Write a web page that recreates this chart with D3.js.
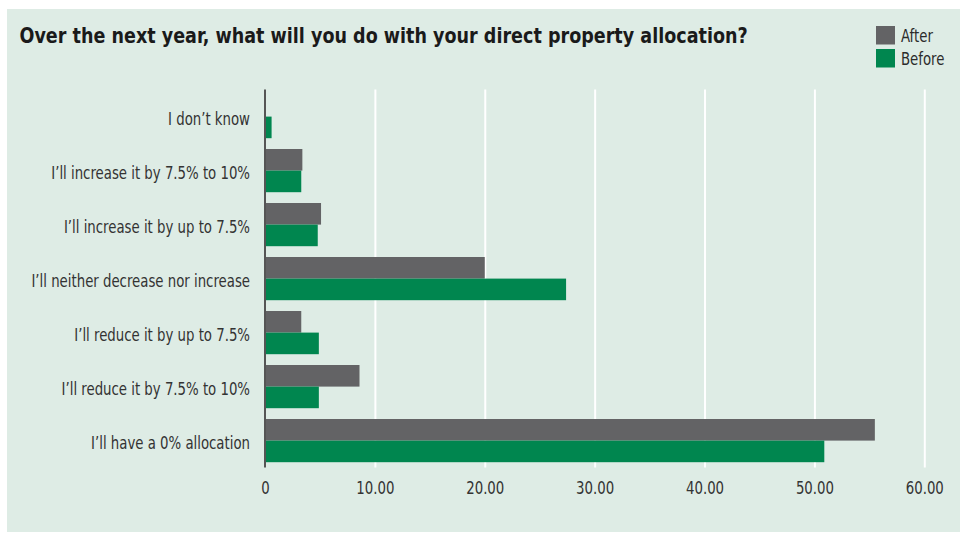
<!DOCTYPE html>
<html>
<head>
<meta charset="utf-8">
<script src="https://cdn.jsdelivr.net/npm/d3@7"></script>
<style>
  body { margin: 0; background: #ffffff; }
  svg { display: block; }
</style>
</head>
<body>
<svg id="chart" width="968" height="533"></svg>
<script>
// Survey answers, top to bottom
const categories = [
  "I don’t know",
  "I’ll increase it by 7.5% to 10%",
  "I’ll increase it by up to 7.5%",
  "I’ll neither decrease nor increase",
  "I’ll reduce it by up to 7.5%",
  "I’ll reduce it by 7.5% to 10%",
  "I’ll have a 0% allocation"
];
const seriesNames = ["After", "Before"];
const afterValues  = [0,   3.4, 5.1, 20.0, 3.3, 8.6, 55.5];
const beforeValues = [0.6, 3.3, 4.8, 27.4, 4.9, 4.9, 50.9];
const xTicks = [0, 10, 20, 30, 40, 50, 60];
const titleText = "Over the next year, what will you do with your direct property allocation?";

const colors = { After: "#636365", Before: "#00864f" };
const labelFont = "'DejaVu Sans Condensed', 'DejaVu Sans', sans-serif";
// horizontal squeeze to get a narrow, condensed face
const squeeze = "scale(0.87,1)";

const svg = d3.select("#chart");

// Panel background
svg.append("rect")
  .attr("x", 7).attr("y", 9)
  .attr("width", 953).attr("height", 523)
  .attr("fill", "#deece5");

// Title
svg.append("text")
  .attr("transform", "translate(19.5,43) scale(0.93,1)")
  .attr("font-family", labelFont)
  .attr("font-weight", "bold")
  .attr("font-size", 21)
  .attr("fill", "#1a1a1a")
  .text(titleText);

// Legend
const legend = svg.append("g").attr("transform", "translate(876,26)");
seriesNames.forEach((name, i) => {
  const g = legend.append("g").attr("transform", `translate(0,${i * 23})`);
  g.append("rect").attr("width", 19).attr("height", 18.5).attr("fill", colors[name]);
  g.append("text")
    .attr("transform", `translate(25,16) ${squeeze}`)
    .attr("font-family", labelFont)
    .attr("font-size", 17)
    .attr("fill", "#2b2b2b")
    .text(name);
});

// Scales
const plot = { left: 265, right: 924.3, top: 89.6, bottom: 467.6 };

const x = d3.scaleLinear()
  .domain([0, 60])
  .range([plot.left, plot.right]);

const y = d3.scaleBand()
  .domain(categories)
  .range([plot.top, plot.bottom])
  .paddingInner(0.2)
  .paddingOuter(0.1);

const ySeries = d3.scaleBand()
  .domain(seriesNames)
  .range([0, y.bandwidth()]);

// Vertical gridlines
const grid = svg.append("g")
  .attr("transform", `translate(0,${plot.bottom})`)
  .call(d3.axisBottom(x)
    .tickValues(xTicks.filter(d => d > 0))
    .tickSize(-(plot.bottom - plot.top))
    .tickFormat(""));
grid.select(".domain").remove();
grid.selectAll(".tick line").attr("stroke", "#ffffff").attr("stroke-width", 2);

// Bars
const rows = categories.map((c, i) => ({ category: c, After: afterValues[i], Before: beforeValues[i] }));
const rowG = svg.append("g").selectAll("g")
  .data(rows)
  .join("g")
  .attr("transform", d => `translate(0,${y(d.category)})`);

rowG.selectAll("rect")
  .data(d => seriesNames.map(s => ({ series: s, value: d[s] })))
  .join("rect")
  .attr("x", x(0))
  .attr("y", d => ySeries(d.series))
  .attr("width", d => x(d.value) - x(0))
  .attr("height", ySeries.bandwidth())
  .attr("fill", d => colors[d.series]);

// Category labels
const yAxis = svg.append("g")
  .attr("transform", `translate(250,0)`)
  .call(d3.axisLeft(y).tickSize(0).tickPadding(0));
yAxis.select(".domain").remove();
yAxis.selectAll(".tick text")
  .attr("font-family", labelFont)
  .attr("font-size", 17)
  .attr("fill", "#333333")
  .attr("dy", "0.52em")
  .attr("transform", squeeze);

// Value axis labels
const xAxis = svg.append("g")
  .attr("transform", `translate(0,${plot.bottom})`)
  .call(d3.axisBottom(x)
    .tickValues(xTicks)
    .tickSize(0)
    .tickPadding(14.3)
    .tickFormat(d => d === 0 ? "0" : d3.format(".2f")(d)));
xAxis.select(".domain").remove();
xAxis.selectAll(".tick text")
  .attr("font-family", labelFont)
  .attr("font-size", 17)
  .attr("fill", "#333333")
  .attr("transform", squeeze);

// Baseline
svg.append("line")
  .attr("x1", x(0)).attr("x2", x(0))
  .attr("y1", plot.top).attr("y2", plot.bottom)
  .attr("stroke", "#555555")
  .attr("stroke-width", 2);
</script>
</body>
</html>
